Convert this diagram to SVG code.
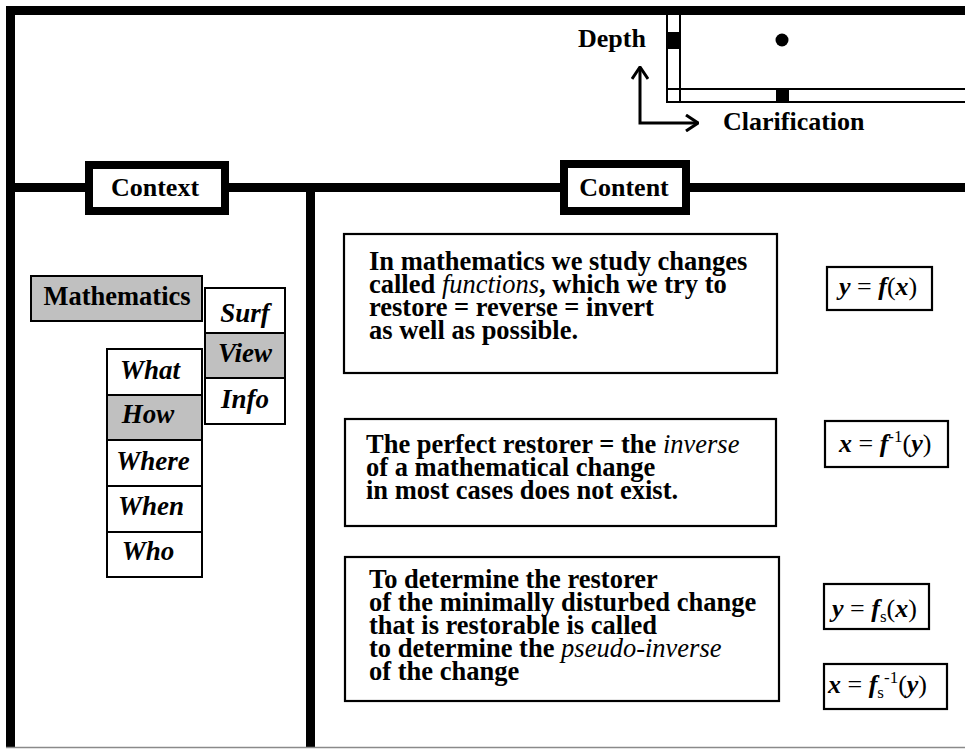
<svg xmlns="http://www.w3.org/2000/svg" width="965" height="749" viewBox="0 0 965 749">
  <defs>
    <style>
      .frame { stroke: #000; stroke-width: 9; fill: none; }
      .thin { stroke: #000; stroke-width: 2; fill: none; }
      .tab { fill: #fff; stroke: #000; stroke-width: 8; }
      .cell { fill: #fff; stroke: #000; stroke-width: 2; }
      .on { fill: #c0c0c0; }
      .box { fill: #fff; stroke: #000; stroke-width: 2.2; }
      .conn { stroke: #000; stroke-width: 3; fill: none; }
    </style>
    <marker id="chev" viewBox="0 0 14 18" refX="13" refY="9" markerWidth="14" markerHeight="18" markerUnits="userSpaceOnUse" orient="auto-start-reverse">
      <path d="M1,1 L13,9 L1,17" stroke="#000" stroke-width="3" fill="none"/>
    </marker>
  </defs>

  <rect width="965" height="749" fill="#fff"/>

  <!-- outer frame and dividers -->
  <g id="frame">
    <path class="frame" d="M10.5,747 L10.5,10.5 L965,10.5"/>
    <path class="frame" d="M10.5,187.5 L965,187.5"/>
    <path class="frame" d="M310.5,187.5 L310.5,747"/>
    <line x1="6" y1="747.5" x2="965" y2="747.5" stroke="#8a8a8a" stroke-width="1.5"/>
  </g>

  <!-- depth / clarification grid -->
  <g id="grid">
    <path class="thin" d="M667,15 L667,102 L965,102"/>
    <path class="thin" d="M680,15 L680,102"/>
    <path class="thin" d="M667,89 L965,89"/>
    <rect x="667" y="32" width="13" height="17" fill="#000"/>
    <rect x="776" y="88" width="13" height="14" fill="#000"/>
    <circle cx="782" cy="40" r="6.5" fill="#000"/>
    <text x="578" y="47" font-family="Liberation Serif" font-size="26" font-weight="bold">Depth</text>
    <text x="723" y="130" font-family="Liberation Serif" font-size="26" font-weight="bold">Clarification</text>
  </g>

  <g id="tab-context">
    <rect class="tab" x="89" y="165" width="136" height="46"/>
    <text x="155" y="196" font-family="Liberation Serif" font-size="26" font-weight="bold" text-anchor="middle">Context</text>
  </g>
  <g id="tab-content">
    <rect class="tab" x="564" y="164" width="122" height="47"/>
    <text x="624" y="196" font-family="Liberation Serif" font-size="26" font-weight="bold" text-anchor="middle">Content</text>
  </g>

  <!-- navigation menu -->
  <g id="mathematics">
    <rect class="cell on" x="31" y="276" width="171" height="45"/>
    <text x="117" y="305" font-family="Liberation Serif" font-size="26.5" font-weight="bold" text-anchor="middle">Mathematics</text>
  </g>
  <g font-family="Liberation Serif" font-size="27" font-weight="bold" font-style="italic" text-anchor="middle">
    <g id="surf">
      <rect class="cell" x="205" y="288" width="80" height="45"/>
      <text x="245" y="322">Surf</text>
    </g>
    <g id="view">
      <rect class="cell on" x="205" y="333" width="80" height="45"/>
      <text x="245" y="362">View</text>
    </g>
    <g id="info">
      <rect class="cell" x="205" y="378" width="80" height="46"/>
      <text x="245" y="408">Info</text>
    </g>
    <g id="what">
      <rect class="cell" x="107" y="349" width="95" height="46"/>
      <text x="150" y="379">What</text>
    </g>
    <g id="how">
      <rect class="cell on" x="107" y="395" width="95" height="45"/>
      <text x="148" y="423">How</text>
    </g>
    <g id="where">
      <rect class="cell" x="107" y="440" width="95" height="46"/>
      <text x="153" y="470">Where</text>
    </g>
    <g id="when">
      <rect class="cell" x="107" y="486" width="95" height="46"/>
      <text x="151" y="515">When</text>
    </g>
    <g id="who">
      <rect class="cell" x="107" y="532" width="95" height="45"/>
      <text x="148" y="560">Who</text>
    </g>
  </g>

  <!-- content statements -->
  <g font-family="Liberation Serif" font-size="26.5" font-weight="bold">
    <g id="statement-functions">
      <rect class="box" x="344" y="234" width="433" height="139"/>
      <text>
        <tspan x="369" y="270">In mathematics we study changes</tspan>
        <tspan x="369" y="293">called <tspan font-style="italic" font-weight="normal">functions</tspan>, which we try to</tspan>
        <tspan x="369" y="316">restore = reverse = invert</tspan>
        <tspan x="369" y="339">as well as possible.</tspan>
      </text>
    </g>
    <g id="statement-inverse">
      <rect class="box" x="345" y="419" width="431" height="107"/>
      <text>
        <tspan x="366" y="453">The perfect restorer = the <tspan font-style="italic" font-weight="normal">inverse</tspan></tspan>
        <tspan x="366" y="476">of a mathematical change</tspan>
        <tspan x="366" y="499">in most cases does not exist.</tspan>
      </text>
    </g>
    <g id="statement-pseudo-inverse">
      <rect class="box" x="345" y="557" width="434" height="144"/>
      <text>
        <tspan x="369" y="588">To determine the restorer</tspan>
        <tspan x="369" y="611">of the minimally disturbed change</tspan>
        <tspan x="369" y="634">that is restorable is called</tspan>
        <tspan x="369" y="657">to determine the <tspan font-style="italic" font-weight="normal">pseudo-inverse</tspan></tspan>
        <tspan x="369" y="680">of the change</tspan>
      </text>
    </g>
  </g>

  <!-- formulas -->
  <g font-family="Liberation Serif" font-size="26">
    <g id="formula-f">
      <rect class="box" x="827" y="267" width="105" height="43"/>
      <text x="839" y="295"><tspan font-style="italic" font-weight="bold">y</tspan> = <tspan font-style="italic" font-weight="bold">f</tspan>(<tspan font-style="italic" font-weight="bold">x</tspan>)</text>
    </g>
    <g id="formula-finv">
      <rect class="box" x="825" y="421" width="123" height="46"/>
      <text x="839" y="452"><tspan font-style="italic" font-weight="bold">x</tspan> = <tspan font-style="italic" font-weight="bold">f</tspan><tspan font-size="17" dy="-10">-1</tspan><tspan dy="10">(</tspan><tspan font-style="italic" font-weight="bold">y</tspan>)</text>
    </g>
    <g id="formula-fs">
      <rect class="box" x="824" y="584" width="105" height="45"/>
      <text x="832" y="617"><tspan font-style="italic" font-weight="bold">y</tspan> = <tspan font-style="italic" font-weight="bold">f</tspan><tspan font-size="17" dy="5">s</tspan><tspan dy="-5">(</tspan><tspan font-style="italic" font-weight="bold">x</tspan>)</text>
    </g>
    <g id="formula-fsinv">
      <rect class="box" x="824" y="664" width="123" height="45"/>
      <text x="828" y="693"><tspan font-style="italic" font-weight="bold">x</tspan> = <tspan font-style="italic" font-weight="bold">f</tspan><tspan font-size="17" dy="5">s</tspan><tspan font-size="17" dy="-15">-1</tspan><tspan dy="10">(</tspan><tspan font-style="italic" font-weight="bold">y</tspan>)</text>
    </g>
  </g>

  <!-- axis connector -->
  <g id="connectors">
    <path class="conn" d="M640,67 L640,123 L698,123" marker-start="url(#chev)" marker-end="url(#chev)"/>
  </g>
</svg>
